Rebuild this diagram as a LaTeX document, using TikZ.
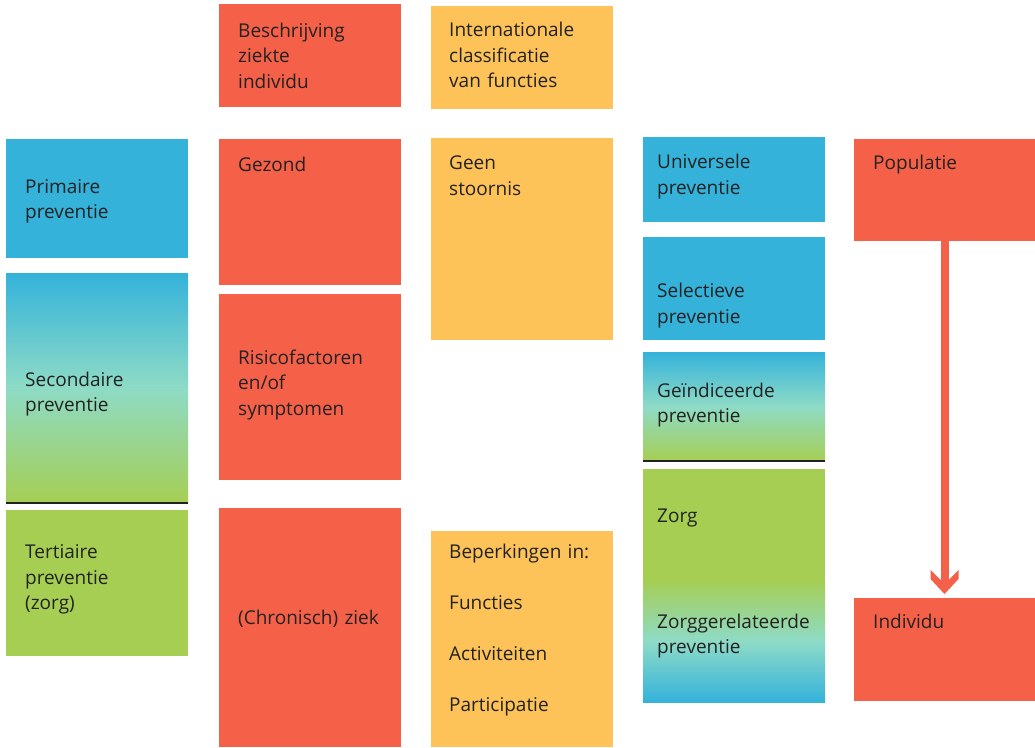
\documentclass[tikz,border=0pt]{standalone}
\usepackage{fontspec}
\setmainfont{Open Sans}
\usepackage{tikz}
\usetikzlibrary{calc}
\definecolor{rood}{RGB}{245,96,73}
\definecolor{blauw}{RGB}{52,178,218}
\definecolor{geel}{RGB}{253,194,88}
\definecolor{groen}{RGB}{166,206,83}
\definecolor{turkoois}{RGB}{142,219,198}
\definecolor{tekst}{RGB}{34,34,34}
\tikzset{blok/.style={anchor=north west, inner sep=0pt, outer sep=0pt, minimum width=182pt},
         lbl/.style={anchor=base west, inner sep=0pt, text width=170pt, align=left,
                     text=tekst, font=\fontsize{19}{25.5}\selectfont},
         scheiding/.style={line width=1.5pt, tekst},
         verloop/.style={top color=blauw, bottom color=groen, middle color=turkoois}}

\begin{document}
\begin{tikzpicture}[x=1pt,y=-1pt]
\useasboundingbox (0,0) rectangle (1035,747);

% kolom 1
\node [blok, fill=blauw, minimum height=119pt] (prim) at (6,139) {};
\node [blok, verloop, minimum height=230pt] (sec) at (6,273) {};
\node [blok, fill=groen, minimum height=146pt] (tert) at (6,510) {};

% kolom 2
\node [blok, fill=rood, minimum height=103pt] (beschr) at (219,4) {};
\node [blok, fill=rood, minimum height=146pt] (gezond) at (219,139) {};
\node [blok, fill=rood, minimum height=186pt] (risico) at (219,294) {};
\node [blok, fill=rood, minimum height=239pt] (ziek) at (219,508) {};

% kolom 3
\node [blok, fill=geel, minimum height=103pt] (icf) at (431,6) {};
\node [blok, fill=geel, minimum height=202pt] (geen) at (431,138) {};
\node [blok, fill=geel, minimum height=216pt] (beperk) at (431,531) {};

% kolom 4
\node [blok, fill=blauw, minimum height=85pt] (univ) at (643,137) {};
\node [blok, fill=blauw, minimum height=103pt] (sel) at (643,237) {};
\node [blok, verloop, minimum height=109pt] (geind) at (643,352) {};
\node [blok, fill=groen, minimum height=233pt] (zorg) at (643,469) {};
\shade [top color=groen, bottom color=blauw, middle color=turkoois]
  ($(zorg.south west)+(0,-122)$) rectangle (zorg.south east);

% kolom 5
\node [blok, fill=rood, minimum width=181pt, minimum height=102pt] (pop) at (854,139) {};
\node [blok, fill=rood, minimum width=181pt, minimum height=103pt] (indiv) at (854,598) {};

\draw [scheiding] (sec.south west) -- (sec.south east);
\draw [scheiding] (geind.south west) -- (geind.south east);

% pijl populatie -> individu
\coordinate (punt) at ($(indiv.north)+(0,-4)$);
\draw [rood, line width=8pt] (pop.south) -- ($(punt)+(0,-12)$);
\fill [rood] (punt) -- ++(-14,-15) -- ++(0,-9) -- ++(10,10) -- ++(8,0)
  -- ++(10,-10) -- ++(0,9) -- cycle;

% teksten
\node [lbl] (t-prim) at (25,193) {Primaire\\preventie};
\node [lbl] (t-sec) at (25,386) {Secondaire\\preventie};
\node [lbl] (t-tert) at (25,558.5) {Tertiaire\\preventie\\(zorg)};

\node [lbl] (t-beschr) at (238,37) {Beschrijving\\ziekte\\individu};
\node [lbl] (t-gezond) at (238,171.5) {Gezond};
\node [lbl] (t-risico) at (238,364) {Risicofactoren\\en/of\\symptomen};
\node [lbl] (t-ziek) at (238,624) {(Chronisch) ziek};

\node [lbl] (t-icf) at (449,36.5) {Internationale\\classificatie\\van functies};
\node [lbl] (t-geen) at (449,169.5) {Geen\\stoornis};
\node [lbl] (t-beperk) at (449,558.7) {Beperkingen in:\\[25.5pt]Functies\\[25.5pt]Activiteiten\\[25.5pt]Participatie};

\node [lbl] (t-univ) at (657,168.7) {Universele\\preventie};
\node [lbl] (t-sel) at (657,297.7) {Selectieve\\preventie};
\node [lbl] (t-geind) at (657,397.3) {Geïndiceerde\\preventie};
\node [lbl] (t-zorg) at (657,522.7) {Zorg};
\node [lbl] (t-zgp) at (657,628.3) {Zorggerelateerde\\preventie};

\node [lbl] (t-pop) at (873,169.3) {Populatie};
\node [lbl] (t-indiv) at (873,628.3) {Individu};

\end{tikzpicture}
\end{document}
